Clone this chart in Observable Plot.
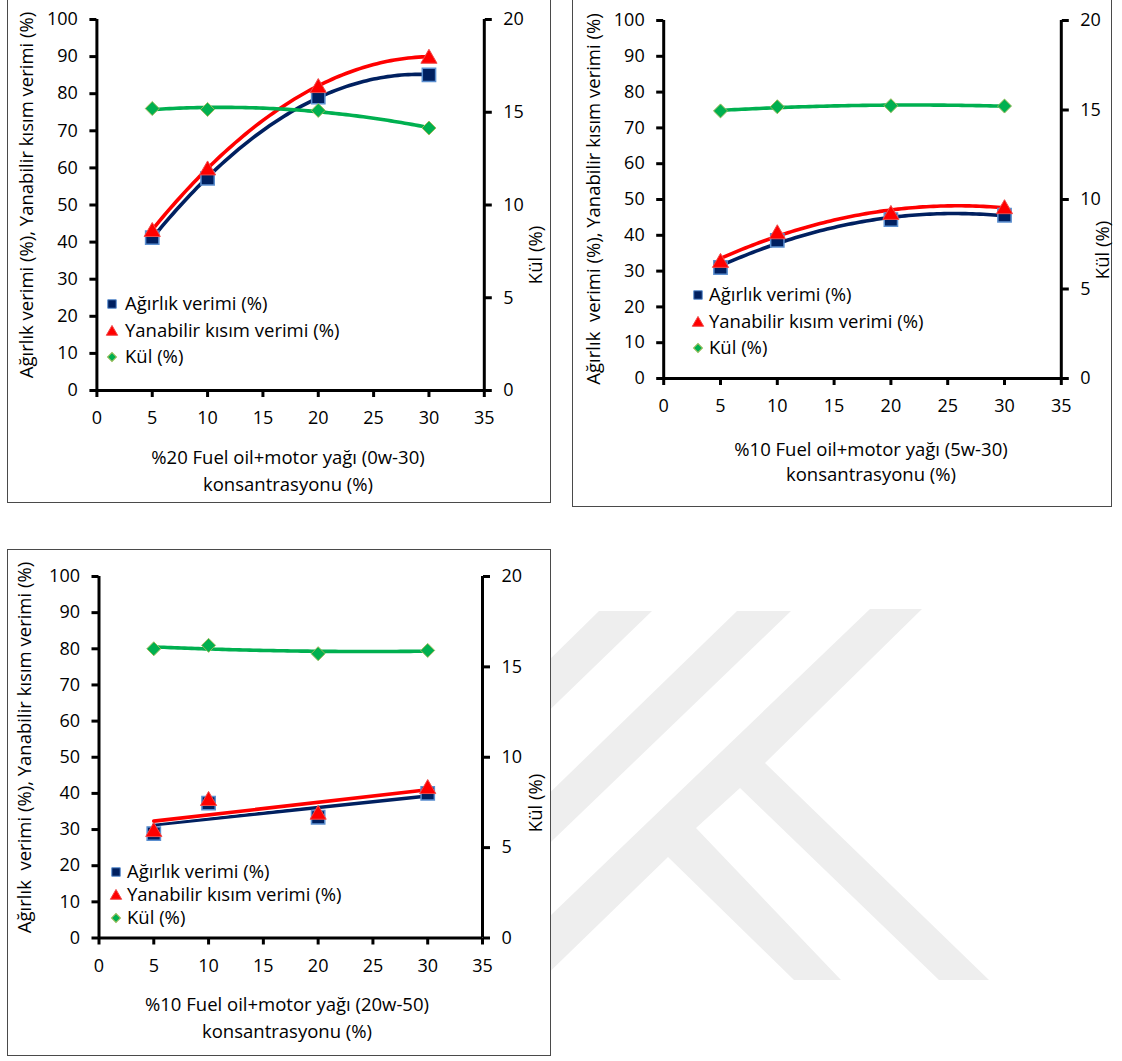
<!DOCTYPE html>
<html>
<head>
<meta charset="utf-8">
<script src="https://cdn.jsdelivr.net/npm/d3@7"></script>
<script src="https://cdn.jsdelivr.net/npm/@observablehq/plot@0.6"></script>
<style>
  html, body { margin: 0; padding: 0; background: #fff; }
  #page { position: relative; width: 1122px; height: 1061px; overflow: hidden; font-family: "Open Sans", Lato, sans-serif; }
  .panel { position: absolute; background: #fff; outline: 1px solid #4a4a4a; outline-offset: -1px; }
  .panel svg { position: absolute; left: 0; top: 0; overflow: visible; }
  #watermark { position: absolute; left: 0; top: 0; }
</style>
</head>
<body>
<div id="page">
  <!-- faint page watermark behind the figures -->
  <svg id="watermark" width="1122" height="1061">
    <g fill="#eeeeee">
      <polygon points="599,611 652,611 500,758 500,708"></polygon>
      <polygon points="737,611 791,611 500,891 500,841"></polygon>
      <polygon points="870,609 922,609 765,763 989,980 939,980 740,788 696,828 841,980 794,980 668,857 500,1020 500,964"></polygon>
    </g>
  </svg>
</div>
<script>
// Konsantrasyon (%) — shared x values of all three series
const konsantrasyon = [5, 10, 20, 30];

// %20 Fuel oil + motor yağı (0w-30)
const agirlik0w30   = [41.2, 57.2, 79.1, 85.1];
const yanabilir0w30 = [43.3, 59.9, 82.1, 90.0];
const kul0w30       = [15.2, 15.15, 15.1, 14.15];

// %10 Fuel oil + motor yağı (5w-30)
const agirlik5w30   = [31.0, 38.6, 44.4, 45.6];
const yanabilir5w30 = [32.9, 40.9, 46.3, 47.9];
const kul5w30       = [14.95, 15.18, 15.24, 15.22];

// %10 Fuel oil + motor yağı (20w-50)
const agirlik20w50   = [28.9, 37.3, 33.4, 40.0];
const yanabilir20w50 = [29.9, 38.5, 34.7, 41.8];
const kul20w50       = [16.0, 16.19, 15.73, 15.91];

// axis ticks
const xTicks = [0, 5, 10, 15, 20, 25, 30, 35];
const yLeftTicks = [0, 10, 20, 30, 40, 50, 60, 70, 80, 90, 100];
const yRightTicks = [0, 5, 10, 15, 20];

// texts
const seriesNames = ["Ağırlık verimi (%)", "Yanabilir kısım verimi (%)", "Kül (%)"];
const yTitle1 = "Ağırlık verimi (%), Yanabilir kısım verimi (%)";
const yTitle2 = "Ağırlık  verimi (%), Yanabilir kısım verimi (%)";
const yRightTitle = "Kül (%)";
const xTitleLine2 = "konsantrasyonu (%)";
const xTitles = [
  "%20 Fuel oil+motor yağı (0w-30)",
  "%10 Fuel oil+motor yağı (5w-30)",
  "%10 Fuel oil+motor yağı (20w-50)"
];

// colours and type
const NAVY = "#002060", NAVY_EDGE = "#5b8fd0";
const RED = "#ff0000", RED_EDGE = "#f04a4a";
const GREEN = "#00b050", GREEN_EDGE = "#9bbb59";
const FONT = "'Open Sans', Lato, sans-serif";
const TICK_FS = 18;
const TEXT_FS = 18.5;

// least-squares quadratic trend y = a + b x + c x²
function quadFit(xs, ys) {
  const S = k => d3.sum(xs, x => x ** k);
  const T = k => d3.sum(xs, (x, i) => x ** k * ys[i]);
  const m = [[S(0), S(1), S(2)], [S(1), S(2), S(3)], [S(2), S(3), S(4)]];
  const v = [T(0), T(1), T(2)];
  const det = a =>
    a[0][0] * (a[1][1] * a[2][2] - a[1][2] * a[2][1]) -
    a[0][1] * (a[1][0] * a[2][2] - a[1][2] * a[2][0]) +
    a[0][2] * (a[1][0] * a[2][1] - a[1][1] * a[2][0]);
  const D = det(m);
  const c = [0, 1, 2].map(j => det(m.map((row, i) => row.map((val, k) => (k === j ? v[i] : val)))) / D);
  return x => c[0] + c[1] * x + c[2] * x * x;
}
function quadTrend(xs, ys) {
  const f = quadFit(xs, ys);
  const [x0, x1] = d3.extent(xs);
  return d3.range(0, 81).map(i => {
    const x = x0 + (x1 - x0) * i / 80;
    return { x, y: f(x) };
  });
}

// trend lines for one left-axis series
function trendMarks(rows, key, color, degree, halo) {
  const marks = [];
  if (degree === 1) {
    if (halo) marks.push(Plot.linearRegressionY(rows, { x: "k", y: key, stroke: "#fff", strokeWidth: 5.4, ci: 0 }));
    marks.push(Plot.linearRegressionY(rows, { x: "k", y: key, stroke: color, strokeWidth: 3.6, ci: 0 }));
  } else {
    const pts = quadTrend(rows.map(d => d.k), rows.map(d => d[key]));
    if (halo) marks.push(Plot.line(pts, { x: "x", y: "y", stroke: "#fff", strokeWidth: 5.4 }));
    marks.push(Plot.line(pts, { x: "x", y: "y", stroke: color, strokeWidth: 3.6 }));
  }
  return marks;
}

const panels = [
  {
    box: { left: 7, top: -2, width: 544, height: 505 },
    margin: { left: 89.4, right: 67.2, top: 21, bottom: 113 },
    agirlik: agirlik0w30, yanabilir: yanabilir0w30, kul: kul0w30, degree: 2,
    yTitle: yTitle1, yTitlePos: [20, 197], kulTitlePos: [529, 257],
    xTitle: xTitles[0], xTitlePos: [281, 460, 487],
    legend: { x: 105, text: 118, rows: [306, 333, 359] }
  },
  {
    box: { left: 572, top: -2, width: 540, height: 509 },
    margin: { left: 91.2, right: 51.2, top: 22, bottom: 129 },
    agirlik: agirlik5w30, yanabilir: yanabilir5w30, kul: kul5w30, degree: 2,
    yTitle: yTitle2, yTitlePos: [22, 201], kulTitlePos: [531, 252],
    xTitle: xTitles[1], xTitlePos: [299, 452, 477],
    legend: { x: 126, text: 137, rows: [297, 324, 350] }
  },
  {
    box: { left: 7, top: 549, width: 544, height: 507 },
    margin: { left: 91.5, right: 69, top: 27, bottom: 118.5 },
    agirlik: agirlik20w50, yanabilir: yanabilir20w50, kul: kul20w50, degree: 1,
    yTitle: yTitle2, yTitlePos: [18, 198.5], kulTitlePos: [529, 254],
    xTitle: xTitles[2], xTitlePos: [280, 456, 483],
    legend: { x: 109, text: 120, rows: [323, 346, 369] }
  }
];

const page = document.getElementById("page");

function drawPanel(p) {
  const host = document.createElement("div");
  host.className = "panel";
  Object.assign(host.style, {
    left: p.box.left + "px", top: p.box.top + "px",
    width: p.box.width + "px", height: p.box.height + "px"
  });
  page.appendChild(host);

  const rows = konsantrasyon.map((k, i) => ({ k, agirlik: p.agirlik[i], yanabilir: p.yanabilir[i], kul: p.kul[i] }));
  const common = {
    width: p.box.width, height: p.box.height,
    marginLeft: p.margin.left, marginRight: p.margin.right,
    marginTop: p.margin.top, marginBottom: p.margin.bottom,
    style: { fontFamily: FONT, fontSize: TICK_FS + "px", color: "#000", background: "transparent", overflow: "visible" }
  };

  // left axis: efficiencies (%)
  const base = Plot.plot({
    ...common,
    x: { domain: [0, 35] },
    y: { domain: [0, 100] },
    marks: [
      ...trendMarks(rows, "agirlik", NAVY, p.degree, false),
      ...trendMarks(rows, "yanabilir", RED, p.degree, true),
      Plot.dot(rows, { x: "k", y: "agirlik", symbol: "square", r: 7.5, fill: NAVY, stroke: NAVY_EDGE, strokeWidth: 1.5 }),
      Plot.dot(rows, { x: "k", y: "yanabilir", symbol: "triangle", r: 6, dy: 2, fill: RED, stroke: RED_EDGE, strokeWidth: 1 }),
      Plot.axisX({ ticks: xTicks, tickSize: 7, tickPadding: 14, strokeWidth: 3, label: null, fill: "#000" }),
      Plot.axisY({ ticks: yLeftTicks, tickSize: 7, tickPadding: 12, strokeWidth: 3, label: null, fill: "#000" }),
      Plot.ruleX([0], { strokeWidth: 3, stroke: "#000" }),
      Plot.ruleX([35], { strokeWidth: 3, stroke: "#000" }),
      Plot.ruleY([0], { strokeWidth: 3, stroke: "#000" })
    ]
  });

  // right axis: ash (%)
  const over = Plot.plot({
    ...common,
    x: { domain: [0, 35], axis: null },
    y: { domain: [0, 20] },
    marks: [
      Plot.axisY({ anchor: "right", ticks: yRightTicks, tickSize: 7, tickPadding: 12, strokeWidth: 3, label: null, fill: "#000" }),
      Plot.line(quadTrend(konsantrasyon, p.kul), { x: "x", y: "y", stroke: GREEN, strokeWidth: 3.6 }),
      Plot.dot(rows, { x: "k", y: "kul", symbol: "diamond2", r: 6.3, fill: GREEN, stroke: GREEN_EDGE, strokeWidth: 1 })
    ]
  });

  host.appendChild(base);
  host.appendChild(over);

  // titles and legend
  const svg = d3.select(over);
  const g = svg.append("g")
    .attr("font-family", FONT).attr("font-size", TEXT_FS).attr("fill", "#000")
    .attr("text-anchor", "start");

  g.append("text")
    .attr("transform", `translate(${p.yTitlePos[0]},${p.yTitlePos[1]}) rotate(-90)`)
    .attr("text-anchor", "middle").attr("dy", "0.35em")
    .style("white-space", "pre")
    .text(p.yTitle);

  g.append("text")
    .attr("transform", `translate(${p.kulTitlePos[0]},${p.kulTitlePos[1]}) rotate(-90)`)
    .attr("text-anchor", "middle").attr("dy", "0.35em")
    .text(yRightTitle);

  g.append("text")
    .attr("x", p.xTitlePos[0]).attr("y", p.xTitlePos[1])
    .attr("text-anchor", "middle").attr("dy", "0.35em")
    .text(p.xTitle);
  g.append("text")
    .attr("x", p.xTitlePos[0]).attr("y", p.xTitlePos[2])
    .attr("text-anchor", "middle").attr("dy", "0.35em")
    .text(xTitleLine2);

  const legendSymbols = [
    { path: d3.symbol(d3.symbolSquare, 72)(), fill: NAVY, stroke: NAVY_EDGE, rotate: 0, dy: 0 },
    { path: d3.symbol(d3.symbolTriangle, 56)(), fill: RED, stroke: RED_EDGE, rotate: 0, dy: 1 },
    { path: d3.symbol(d3.symbolSquare, 40)(), fill: GREEN, stroke: GREEN_EDGE, rotate: 45, dy: 0 }
  ];
  seriesNames.forEach((name, i) => {
    const s = legendSymbols[i];
    const y = p.legend.rows[i];
    g.append("path")
      .attr("d", s.path)
      .attr("transform", `translate(${p.legend.x},${y + s.dy}) rotate(${s.rotate})`)
      .attr("fill", s.fill).attr("stroke", s.stroke).attr("stroke-width", 1);
    g.append("text")
      .attr("x", p.legend.text).attr("y", y).attr("dy", "0.35em")
      .attr("text-anchor", "start")
      .text(name);
  });
}

panels.forEach(drawPanel);
</script>
</body>
</html>
